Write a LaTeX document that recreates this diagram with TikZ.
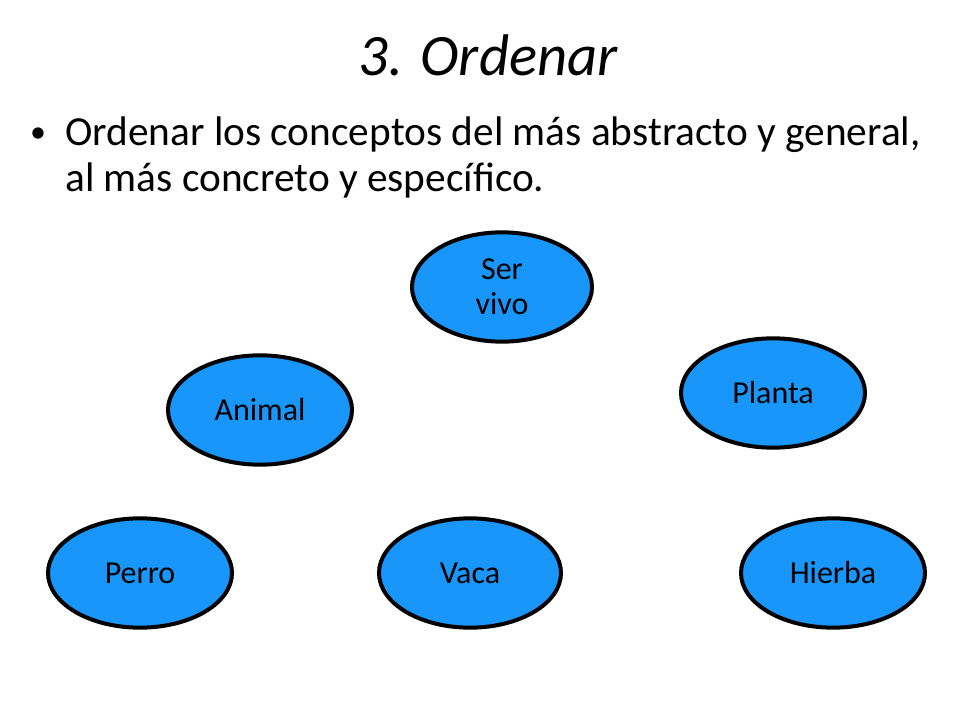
\documentclass[tikz,border=0pt]{standalone}
\usepackage{fontspec}
\setmainfont{Carlito}
\usetikzlibrary{shapes.geometric}
\definecolor{blu}{RGB}{25,150,250}
\tikzset{circ/.style={ellipse,draw=black,line width=3pt,fill=blu,inner sep=0pt,minimum width=#1*0.75pt,minimum height=82pt,align=center,font=\fontsize{24}{26}\selectfont}}
\begin{document}
\begin{tikzpicture}[x=0.75pt,y=-0.75pt]
\useasboundingbox (0,0) rectangle (960,720);
\node (title) at (488,55) {\fontsize{44}{50}\selectfont\itshape 3. Ordenar};
\node (bul) at (38,135) {\fontsize{24}{28}\selectfont •};
\node[anchor=north west,align=left,inner sep=0pt,font=\fontsize{31}{34}\selectfont] (txt) at (65,117) {Ordenar los conceptos del más abstracto y general,\\al más concreto y específico.};
\node[circ=180] (ser) at (502,287) {Ser\\vivo};
\node[circ=184] (ani) at (260,410) {Animal};
\node[circ=184] (pla) at (773,393) {Planta};
\node[circ=184] (per) at (140,573) {Perro};
\node[circ=182] (vac) at (470,573) {Vaca};
\node[circ=184] (hie) at (833,573) {Hierba};
\end{tikzpicture}
\end{document}
